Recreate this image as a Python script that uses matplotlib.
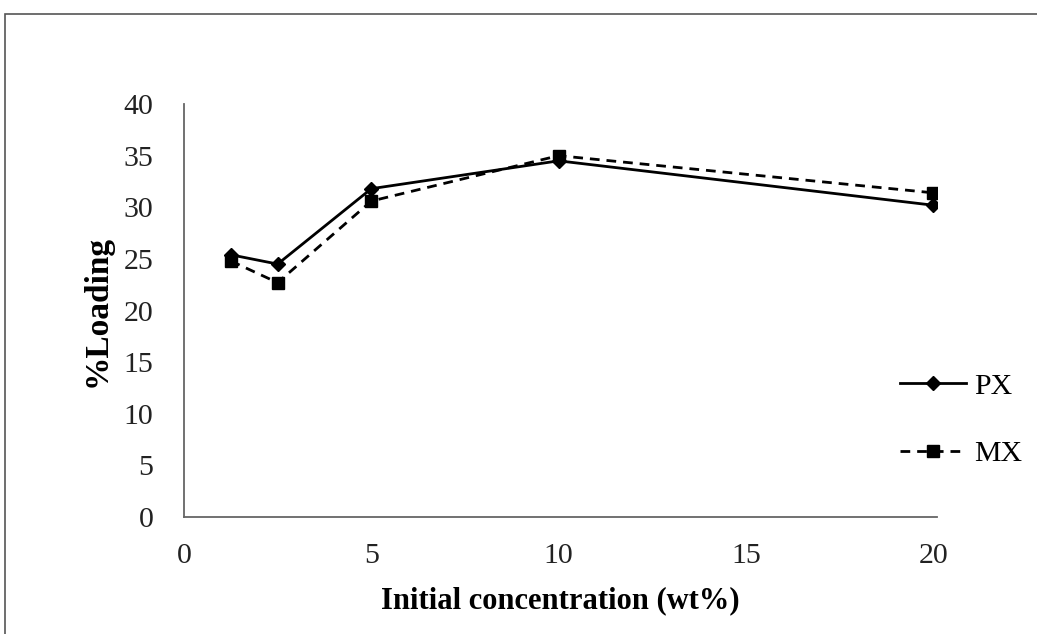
import matplotlib.pyplot as plt
from matplotlib.patches import Rectangle

# ─────────────────────────────────────────
# Data
# ─────────────────────────────────────────
conc = [1.25, 2.5, 5, 10, 20]
px_loading = [25.4, 24.5, 31.8, 34.5, 30.2]
mx_loading = [24.8, 22.7, 30.6, 35.0, 31.4]
x_ticks = [0, 5, 10, 15, 20]
y_ticks = [0, 5, 10, 15, 20, 25, 30, 35, 40]

plt.rcParams['font.family'] = ['Liberation Serif', 'DejaVu Serif']

fig = plt.figure(figsize=(10.37, 6.34), dpi=100)
ax = fig.add_axes([0.1774, 0.1845, 0.7262, 0.6514])

# outer chart-area frame
fig.patches.append(Rectangle((5 / 1037, -0.01), 1.1, 1 - 14 / 634 + 0.01,
                             transform=fig.transFigure, fill=False,
                             edgecolor='#555555', linewidth=1.2))

ax.plot(conc, px_loading, color='black', linewidth=2.0, marker='D',
        markersize=7, label='PX')
ax.plot(conc, mx_loading, color='black', linewidth=2.0, linestyle=(0, (3.5, 2.5)),
        marker='s', markersize=9, label='MX')

ax.set_xlim(0, 20.1)
ax.set_ylim(0, 40)
ax.set_xticks(x_ticks)
ax.set_yticks(y_ticks)
ax.tick_params(length=0, labelsize=21.5, colors='#222222')
ax.tick_params(axis='x', pad=19)
ax.tick_params(axis='y', pad=22)

for side in ['top', 'right']:
    ax.spines[side].set_visible(False)
for side in ['left', 'bottom']:
    ax.spines[side].set_color('#666666')
    ax.spines[side].set_linewidth(1.3)

ax.set_xlabel('Initial concentration (wt%)', fontsize=22, fontweight='bold', labelpad=12)
ax.set_ylabel('%Loading', fontsize=24, fontweight='bold', labelpad=8)

ax.legend(loc='center left', bbox_to_anchor=(0.915, 0.235), frameon=False,
          fontsize=21.5, handlelength=2.2, labelspacing=1.35, handletextpad=0.3)

plt.savefig('out.png', dpi=100)
